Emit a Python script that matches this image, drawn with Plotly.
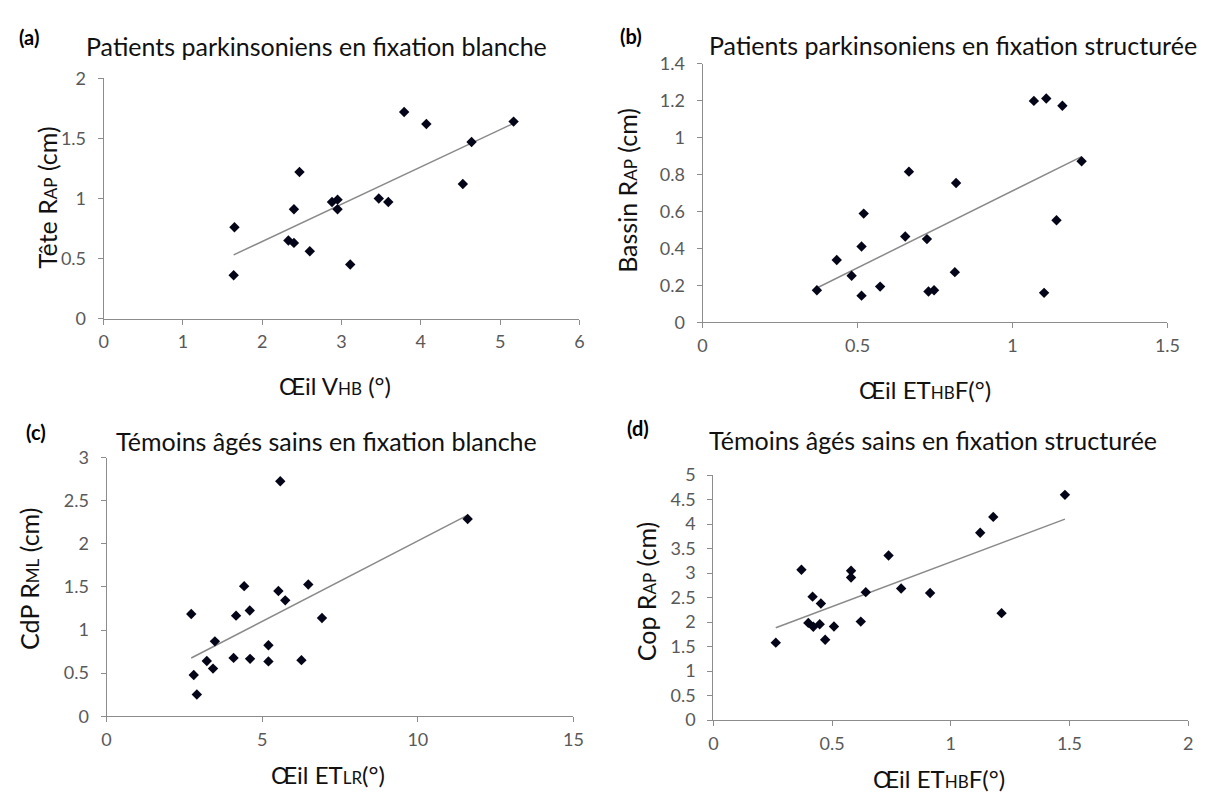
import numpy as np
import plotly.graph_objects as go

# page body has an 8px margin: figure drawn 8px in, so shrink and offset
OFF = 8
W, H = 1211 - OFF, 806 - OFF

# ---------------- data ----------------
a_x = [1.64, 1.65, 2.33, 2.40, 2.40, 2.47, 2.60, 2.88, 2.95, 2.95, 3.11, 3.47, 3.59, 3.79, 4.07, 4.53, 4.64, 5.17]
a_y = [0.36, 0.76, 0.65, 0.63, 0.91, 1.22, 0.56, 0.97, 0.99, 0.91, 0.45, 1.00, 0.97, 1.72, 1.62, 1.12, 1.47, 1.64]

b_x = [0.369, 0.433, 0.481, 0.513, 0.513, 0.520, 0.573, 0.654, 0.666, 0.724,
       0.729, 0.747, 0.814, 0.818, 1.069, 1.102, 1.109, 1.142, 1.161, 1.223]
b_y = [0.174, 0.338, 0.253, 0.145, 0.411, 0.589, 0.194, 0.465, 0.816, 0.451,
       0.167, 0.174, 0.272, 0.755, 1.199, 0.160, 1.212, 0.553, 1.173, 0.872]

c_x = [2.72, 2.80, 2.90, 3.22, 3.42, 3.48, 4.08, 4.16, 4.42, 4.60,
       4.61, 5.20, 5.20, 5.52, 5.58, 5.74, 6.26, 6.48, 6.92, 11.60]
c_y = [1.186, 0.478, 0.252, 0.640, 0.553, 0.869, 0.677, 1.167, 1.509, 1.227,
       0.666, 0.824, 0.636, 1.453, 2.725, 1.344, 0.651, 1.528, 1.140, 2.288]

d_x = [0.263, 0.371, 0.400, 0.418, 0.421, 0.448, 0.453, 0.471, 0.508, 0.580,
       0.580, 0.621, 0.642, 0.738, 0.791, 0.913, 1.124, 1.179, 1.214, 1.481]
d_y = [1.581, 3.069, 1.984, 2.520, 1.905, 1.958, 2.381, 1.640, 1.911, 3.049,
       2.910, 2.011, 2.612, 3.360, 2.685, 2.593, 3.823, 4.147, 2.183, 4.597]

panel_labels = ["(a)", "(b)", "(c)", "(d)"]
panel_titles = ["Patients parkinsoniens en fixation blanche",
                "Patients parkinsoniens en fixation structurée",
                "Témoins âgés sains en fixation blanche",
                "Témoins âgés sains en fixation structurée"]
sub = "<span style='font-size:17px'>%s</span>"
y_titles = ["Tête R" + sub % "AP" + " (cm)",
            "Bassin R" + sub % "AP" + " (cm)",
            "CdP R" + sub % "ML" + " (cm)",
            "Cop R" + sub % "AP" + " (cm)"]
x_titles = ["Œil V" + sub % "HB" + " (°)",
            "Œil ET" + sub % "HB" + "F(°)",
            "Œil ET" + sub % "LR" + "(°)",
            "Œil ET" + sub % "HB" + "F(°)"]

x_ranges = [(0, 6, 1), (0, 1.5, 0.5), (0, 15, 5), (0, 2, 0.5)]
y_ranges = [(0, 2, 0.5), (0, 1.4, 0.2), (0, 3, 0.5), (0, 5, 0.5)]

# ---------------- layout geometry (page pixels) ----------------
areas = [(100, 583, 68, 315), (708, 1180, 53, 319), (103, 577, 458, 724), (719, 1201, 476, 728)]
label_pos = [(24, 25), (635, 24), (31, 432), (642, 428)]
title_pos = [(316, 35), (962, 34), (326, 441), (942, 440)]
ytitle_pos = [(42, 190), (632, 183), (24, 583), (650, 595)]
xtitle_pos = [(335, 384), (934, 388), (328, 784), (948, 788)]

datasets = [(a_x, a_y), (b_x, b_y), (c_x, c_y), (d_x, d_y)]

FONT = "Lato"
AXIS_COL = "#8c8c8c"
TICK_COL = "#595959"

fig = go.Figure()

def px2x(p):
    return (p - OFF) / W

def py2y(p):
    return 1 - (p - OFF) / H

annotations = []
for i, (xs, ys) in enumerate(datasets):
    n = "" if i == 0 else str(i + 1)
    xa, ya = "x" + n, "y" + n
    xs_a = np.array(xs)
    ys_a = np.array(ys)
    m, c = np.polyfit(xs_a, ys_a, 1)
    lx = np.array([xs_a.min(), xs_a.max()])
    fig.add_trace(go.Scatter(x=lx, y=m * lx + c, mode="lines",
                             line=dict(color="#8a8a8a", width=1.5),
                             xaxis=xa, yaxis=ya, showlegend=False, hoverinfo="skip"))
    fig.add_trace(go.Scatter(x=xs, y=ys, mode="markers",
                             marker=dict(symbol="diamond", size=8, color="#05051a"),
                             xaxis=xa, yaxis=ya, showlegend=False))
    x0, x1, yt, yb = areas[i]
    xr, yr = x_ranges[i], y_ranges[i]
    common = dict(showline=True, linecolor=AXIS_COL, linewidth=1, showgrid=False,
                  zeroline=False, ticks="outside", ticklen=5, tickcolor=AXIS_COL,
                  tickfont=dict(family=FONT, size=18, color=TICK_COL))
    fig.layout["xaxis" + n] = dict(domain=[px2x(x0), px2x(x1)], range=[xr[0], xr[1]],
                                   tick0=xr[0], dtick=xr[2], anchor=ya,
                                   ticklabelstandoff=2, **common)
    fig.layout["yaxis" + n] = dict(domain=[py2y(yb), py2y(yt)], range=[yr[0], yr[1]],
                                   tick0=yr[0], dtick=yr[2], anchor=xa,
                                   ticklabelstandoff=8, **common)
    lx_, ly_ = label_pos[i]
    annotations.append(dict(text="<b>" + panel_labels[i] + "</b>", x=px2x(lx_), y=py2y(ly_),
                            xref="paper", yref="paper", showarrow=False,
                            xanchor="center", yanchor="middle",
                            font=dict(family=FONT, size=20, color="#000000")))
    tx, ty = title_pos[i]
    annotations.append(dict(text=panel_titles[i], x=px2x(tx), y=py2y(ty),
                            xref="paper", yref="paper", showarrow=False,
                            xanchor="center", yanchor="middle",
                            font=dict(family=FONT, size=25, color="#111111")))
    yx, yy = ytitle_pos[i]
    annotations.append(dict(text=y_titles[i], x=px2x(yx), y=py2y(yy), textangle=-90,
                            xref="paper", yref="paper", showarrow=False,
                            xanchor="center", yanchor="middle",
                            font=dict(family=FONT, size=25, color="#111111")))
    xx, xy = xtitle_pos[i]
    annotations.append(dict(text=x_titles[i], x=px2x(xx), y=py2y(xy),
                            xref="paper", yref="paper", showarrow=False,
                            xanchor="center", yanchor="middle",
                            font=dict(family=FONT, size=24, color="#111111")))

fig.update_layout(width=W, height=H, margin=dict(l=0, r=0, t=0, b=0),
                  paper_bgcolor="white", plot_bgcolor="white",
                  annotations=annotations, showlegend=False)

fig.write_html("out.html")
